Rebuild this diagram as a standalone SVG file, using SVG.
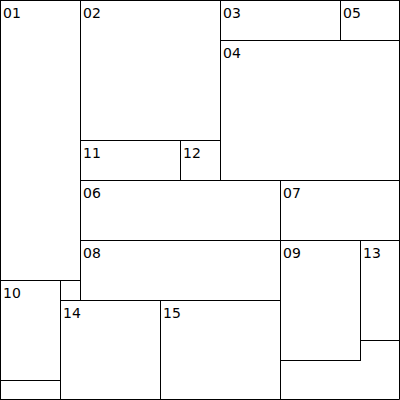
<svg xmlns="http://www.w3.org/2000/svg" width="400" height="400" viewBox="0 0 400 400">
<style>
rect{fill:#fff;stroke:#000;stroke-width:1}
text{font-family:"DejaVu Sans",Verdana,sans-serif;font-size:14px;fill:#000}
</style>
<rect x="0" y="0" width="400" height="400" style="stroke:none"/>
<g id="n01"><rect x="0.5" y="0.5" width="80" height="280"/><text x="3" y="18">01</text></g>
<g id="n02"><rect x="80.5" y="0.5" width="140" height="140"/><text x="83" y="18">02</text></g>
<g id="n03"><rect x="220.5" y="0.5" width="120" height="40"/><text x="223" y="18">03</text></g>
<g id="n05"><rect x="340.5" y="0.5" width="59" height="40"/><text x="343" y="18">05</text></g>
<g id="n04"><rect x="220.5" y="40.5" width="179" height="140"/><text x="223" y="58">04</text></g>
<g id="n11"><rect x="80.5" y="140.5" width="100" height="40"/><text x="83" y="158">11</text></g>
<g id="n12"><rect x="180.5" y="140.5" width="40" height="40"/><text x="183" y="158">12</text></g>
<g id="n06"><rect x="80.5" y="180.5" width="200" height="60"/><text x="83" y="198">06</text></g>
<g id="n07"><rect x="280.5" y="180.5" width="119" height="60"/><text x="283" y="198">07</text></g>
<g id="n08"><rect x="80.5" y="240.5" width="200" height="60"/><text x="83" y="258">08</text></g>
<g id="n09"><rect x="280.5" y="240.5" width="80" height="120"/><text x="283" y="258">09</text></g>
<g id="n13"><rect x="360.5" y="240.5" width="39" height="100"/><text x="363" y="258">13</text></g>
<g id="n10"><rect x="0.5" y="280.5" width="60" height="100"/><text x="3" y="298">10</text></g>
<g id="e1"><rect x="60.5" y="280.5" width="20" height="20"/></g>
<g id="n14"><rect x="60.5" y="300.5" width="100" height="99"/><text x="63" y="318">14</text></g>
<g id="n15"><rect x="160.5" y="300.5" width="120" height="99"/><text x="163" y="318">15</text></g>
<g id="e2"><rect x="0.5" y="380.5" width="60" height="19"/></g>
<g id="e3"><path d="M280.5 360.5 V399.5 H399.5 V340.5" fill="none" stroke="#000"/></g>
</svg>
